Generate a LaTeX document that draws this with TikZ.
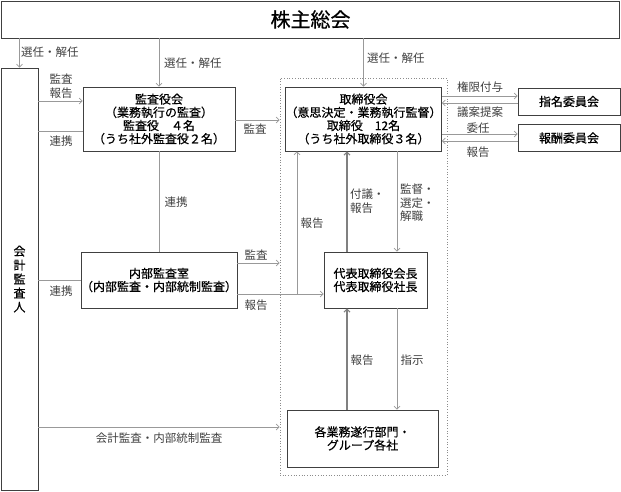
\documentclass[tikz,border=0pt]{standalone}
\usepackage{fontspec}
\setmainfont{Noto Sans CJK JP}
\newfontfamily\boxfont[FakeBold=0.6]{Noto Sans CJK JP}
\usetikzlibrary{arrows.meta}
\begin{document}
\begin{tikzpicture}[x=1pt,y=-1pt,
  box/.style={draw=black!75, line width=0.8pt, rectangle, inner sep=0pt, align=center, font=\fontsize{12}{13.2}\boxfont},
  lbl/.style={font=\fontsize{11.5}{13.5}\selectfont, text=black!75, inner sep=0pt, align=left},
  conn/.style={draw=black!40, line width=0.7pt},
  arr/.style={conn, -{Straight Barb[length=3pt,width=6pt]}},
  tarr/.style={arr, line width=1.1pt, draw=black!50}]
\useasboundingbox (0,0) rectangle (621,492);

\node[draw=black!45, dotted, line width=0.7pt, minimum width=167, minimum height=397, inner sep=0pt] (grp) at (363.5,276.5) {};

\node[box, minimum width=618, minimum height=37, font=\fontsize{20}{22}\boxfont] (gm) at (310.5,19.5) {株主総会};
\node[box, minimum width=37, minimum height=422, font=\fontsize{12}{14}\boxfont] (ca) at (19.5,279) {会\\計\\監\\査\\人};
\node[box, minimum width=152, minimum height=64] (kansa) at (159,119) {監査役会\\（業務執行の監査）\\監査役　４名\\（うち社外監査役２名）};
\node[box, minimum width=152, minimum height=56] (naibu) at (159,280) {内部監査室\\（内部監査・内部統制監査）};
\node[box, minimum width=153, minimum height=64] (board) at (363.5,119) {取締役会\\（意思決定・業務執行監督）\\取締役　12名\\（うち社外取締役３名）};
\node[box, minimum width=103, minimum height=56] (ceo) at (375.5,280) {代表取締役会長\\代表取締役社長};
\node[box, minimum width=151, minimum height=57] (ops) at (362.5,438.5) {各業務遂行部門・\\グループ各社};
\node[box, minimum width=102, minimum height=27] (nom) at (569,101.5) {指名委員会};
\node[box, minimum width=102, minimum height=27] (rem) at (569,138) {報酬委員会};

% from shareholders
\draw[arr] (gm.south -| ca.north) -- (ca.north);
\draw[arr] (gm.south -| kansa.north) -- (kansa.north);
\draw[arr] (gm.south -| board.north) -- (board.north);

% left side
\draw[arr] (ca.east |- 0,101) -- (kansa.west |- 0,101);
\draw[conn] (ca.east |- 0,131) -- (kansa.west |- 0,131);
\draw[conn] (ca.east |- 0,280) -- (naibu.west);
\draw[arr] (ca.east |- 0,427) -- (grp.west |- 0,427);

\draw[arr] (kansa.east |- 0,120) -- (grp.west |- 0,120);
\draw[conn] (kansa.south) -- (naibu.north);
\draw[arr] (naibu.east |- 0,263) -- (grp.west |- 0,263);
\draw[arr] (naibu.east |- 0,294) -- (ceo.west |- 0,294);
\coordinate (j) at (297,294);
\draw[arr] (j) -- (board.south -| j);

% inside group
\draw[tarr] (ceo.north -| 347,0) -- (board.south -| 347,0);
\draw[arr] (board.south -| 397,0) -- (ceo.north -| 397,0);
\draw[tarr] (ops.north -| 347,0) -- (ceo.south -| 347,0);
\draw[arr] (ceo.south -| 397,0) -- (ops.north -| 397,0);

% committees
\draw[arr] (board.east |- 0,96) -- (nom.west |- 0,96);
\draw[arr] (nom.west |- 0,103) -- (board.east |- 0,103);
\draw[arr] (board.east |- 0,134) -- (rem.west |- 0,134);
\draw[arr] (rem.west |- 0,141) -- (board.east |- 0,141);

% labels
\node[lbl, anchor=west] (l1) at (21,52) {選任・解任};
\node[lbl, anchor=west] (l2) at (164,63) {選任・解任};
\node[lbl, anchor=west] (l3) at (367,58) {選任・解任};
\node[lbl, align=center] (l4) at (61,86) {監査\\報告};
\node[lbl] (l5) at (61,141) {連携};
\node[lbl] (l6) at (61,291) {連携};
\node[lbl] (l7) at (255,129) {監査};
\node[lbl] (l8) at (176,202) {連携};
\node[lbl] (l9) at (256,255) {監査};
\node[lbl] (l10) at (256,305) {報告};
\node[lbl] (l11) at (312,223) {報告};
\node[lbl, anchor=west] (l12) at (350,201) {付議・\\報告};
\node[lbl, anchor=west] (l13) at (400,203) {監督・\\選定・\\解職};
\node[lbl] (l14) at (362,360) {報告};
\node[lbl] (l15) at (412,360) {指示};
\node[lbl] (l16) at (480,87) {権限付与};
\node[lbl] (l17) at (480,112) {議案提案};
\node[lbl] (l18) at (478,128) {委任};
\node[lbl] (l19) at (478,152) {報告};
\node[lbl] (l20) at (159,438) {会計監査・内部統制監査};
\end{tikzpicture}
\end{document}
